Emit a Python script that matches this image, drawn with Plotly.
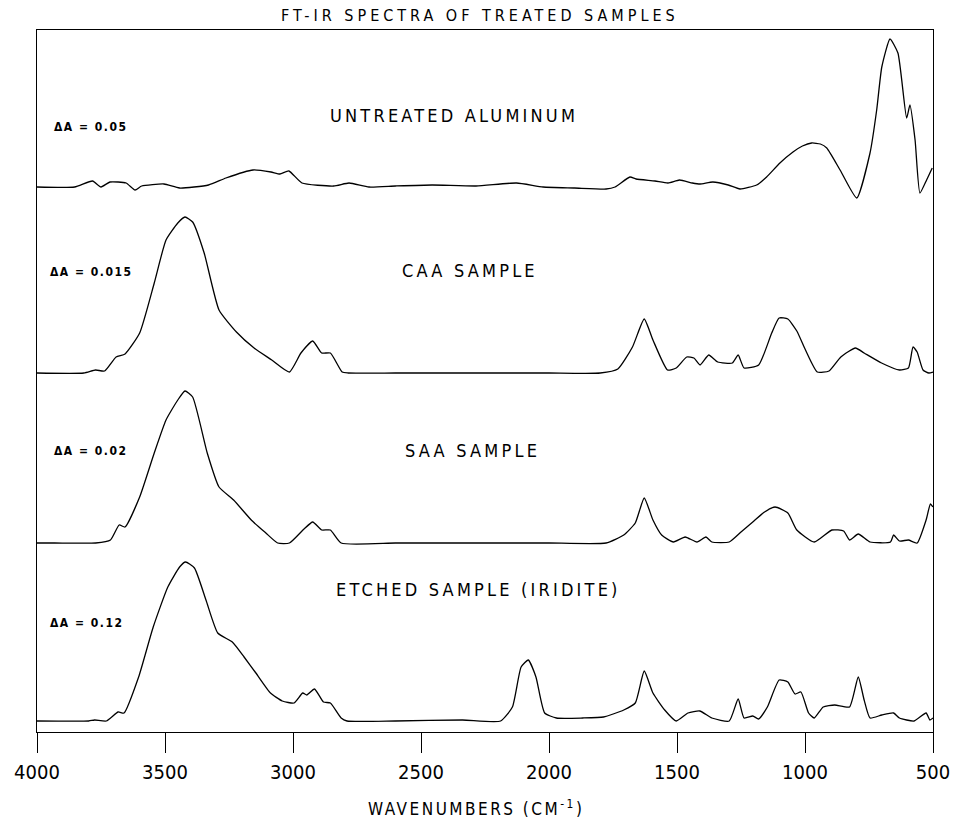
import plotly.graph_objects as go

# ---------------- data ----------------
# heights above each spectrum's own baseline (arbitrary absorbance units)
untreated_wn = [4000, 3853, 3783, 3750, 3715, 3652, 3617, 3591, 3504, 3443, 3330, 3262, 3156, 3086,
                3051, 3016, 2965, 2841, 2781, 2703, 2600, 2457, 2285, 2127, 2023, 1900, 1777, 1742, 1684, 1660,
                1586, 1535, 1490, 1440, 1410, 1360, 1300, 1254, 1189, 1150, 1098, 1047, 1010, 974, 940, 915,
                863, 798, 746, 720, 700, 668, 637, 603, 590, 570, 551, 525, 503]
untreated_h = [0, 0, 6, 0, 5, 4, -3, 1, 3, -1, 2, 9, 17, 15,
               13, 16, 4, 1, 4, 0, 1, 2, 1, 4, 0, -1, -2, 0, 10, 8,
               6, 4, 7, 4, 3, 5, 2, -2, 2, 10, 24, 35, 41, 44, 43, 39,
               17, -11, 34, 77, 120, 148, 134, 69, 82, 47, -6, 7, 19]

caa_wn = [4000, 3817, 3771, 3736, 3691, 3656, 3599, 3542, 3496, 3450, 3422, 3392, 3347, 3289,
          3221, 3152, 3083, 3014, 2969, 2923, 2888, 2854, 2808, 2785, 2600, 2400, 2189, 2000, 1800, 1731, 1674,
          1628, 1594, 1537, 1503, 1462, 1434, 1410, 1376, 1341, 1284, 1261, 1238, 1181, 1130,
          1101, 1067, 1032, 998, 952, 906, 860, 803, 769, 701, 631, 596, 578, 562, 539, 516, 500]
caa_h = [0, 0, 3, 2, 16, 19, 40, 90, 133, 150, 156, 151, 120, 63,
         41, 25, 13, 1, 20, 32, 20, 20, 1, 0, 0, 0, 0, 0, 0, 4, 26,
         54, 33, 3, 5, 16, 15, 8, 18, 11, 10, 18, 5, 8, 40,
         55, 54, 42, 23, 1, 2, 16, 25, 20, 10, 3, 5, 26, 21, 3, 0, 1]

saa_wn = [4000, 3931, 3771, 3713, 3679, 3656, 3599, 3542, 3496, 3450, 3422, 3392, 3335, 3289,
          3232, 3163, 3106, 3060, 3014, 2957, 2923, 2888, 2854, 2812, 2600, 2400, 2200, 2000, 1777, 1708, 1663, 1628,
          1594, 1560, 1514, 1468, 1422, 1387, 1364, 1296, 1250, 1204, 1158, 1117, 1067, 1032,
          964, 895, 849, 826, 792, 746, 666, 654, 631, 596, 562, 527, 510, 500]
saa_h = [0, 0, 0, 3, 18, 16, 46, 90, 123, 143, 152, 146, 90, 56,
         43, 23, 10, 0, 0, 14, 21, 13, 13, 0, 0, 0, 0, 0, 0, 8, 20, 45,
         23, 8, 1, 6, 1, 6, 1, 1, 11, 21, 31, 36, 30, 13,
         1, 13, 12, 3, 9, 1, 1, 8, 2, 3, 0, 23, 39, 36]

etched_wn = [4000, 3798, 3775, 3729, 3683, 3660, 3603, 3546, 3489, 3443, 3420, 3385, 3340, 3294,
             3237, 3191, 3145, 3088, 3042, 2996, 2962, 2946, 2916, 2881, 2854, 2812, 2789, 2600, 2338,
             2189, 2143, 2109, 2081, 2051, 2017, 1971, 1868, 1787, 1708, 1663, 1628, 1594, 1548,
             1503, 1457, 1411, 1364, 1296, 1261, 1238, 1204, 1181, 1147, 1101, 1067, 1039, 1016,
             986, 964, 929, 884, 826, 792, 769, 746, 700, 654, 631, 574, 527, 512, 500]
etched_h = [0, 0, 1, 0, 9, 8, 44, 94, 134, 154, 159, 153, 121, 88,
            79, 64, 48, 28, 20, 18, 28, 26, 32, 19, 18, 3, 0, 0, 1,
            0, 14, 54, 61, 44, 8, 3, 3, 4, 11, 18, 50, 28, 11,
            0, 8, 10, 3, 0, 22, 3, 5, 2, 14, 41, 39, 27, 29,
            8, 3, 14, 16, 14, 44, 21, 3, 6, 8, 3, 0, 8, 1, 3]

spectra_names = ["UNTREATED ALUMINUM", "CAA SAMPLE", "SAA SAMPLE", "ETCHED SAMPLE (IRIDITE)"]
delta_a_labels = ["\u0394A = 0.05", "\u0394A = 0.015", "\u0394A = 0.02", "\u0394A = 0.12"]
x_tick_vals = [4000, 3500, 3000, 2500, 2000, 1500, 1000, 500]
x_title = "WAVENUMBERS (CM<sup>-1</sup>)"
chart_title = "FT-IR SPECTRA OF TREATED SAMPLES"

# ---------------- layout helpers ----------------
offsets = [545, 359, 189, 11]   # vertical stacking offsets of the four traces
series = [(untreated_wn, untreated_h), (caa_wn, caa_h), (saa_wn, saa_h), (etched_wn, etched_h)]

FONT = "DejaVu Sans Condensed, DejaVu Sans, sans-serif"

fig = go.Figure()
for (wn, h), off in zip(series, offsets):
    fig.add_trace(go.Scatter(x=wn, y=[v + off for v in h], mode="lines",
                             line=dict(color="black", width=1.3, shape="spline", smoothing=0.5),
                             hoverinfo="skip", showlegend=False))

def spaced(t, ls):
    return '<span style="letter-spacing:%spx">%s</span>' % (ls, t)

ann = []
ann.append(dict(text=spaced(chart_title, 4), x=0.494, y=1.021,
                xref="paper", yref="paper", showarrow=False, xanchor="center", yanchor="middle",
                font=dict(family=FONT, size=16, color="black")))
ann.append(dict(text=spaced(x_title, 2.5), x=0.49, y=-0.108,
                xref="paper", yref="paper", showarrow=False, xanchor="center", yanchor="middle",
                font=dict(family=FONT, size=17, color="black")))
name_pos = [(0.4654, 0.8789), (0.4833, 0.6581), (0.4855, 0.4003), (0.4922, 0.2023)]
da_pos = [(0.0167, 0.8618), (0.0123, 0.6553), (0.0167, 0.4003), (0.0123, 0.1553)]
for name, (px, py) in zip(spectra_names, name_pos):
    ann.append(dict(text=spaced(name, 3.2), x=px, y=py, xref="paper", yref="paper", showarrow=False,
                    xanchor="center", yanchor="middle",
                    font=dict(family=FONT, size=18, color="black")))
for lab, (px, py) in zip(delta_a_labels, da_pos):
    ann.append(dict(text=spaced(lab, 1.5), x=px, y=py, xref="paper", yref="paper", showarrow=False,
                    xanchor="left", yanchor="middle",
                    font=dict(family=FONT, size=12, color="black", weight="bold")))

fig.update_layout(
    width=957, height=819,
    margin=dict(l=37, r=24, t=30, b=87, autoexpand=False),
    paper_bgcolor="white", plot_bgcolor="white",
    annotations=ann,
    xaxis=dict(range=[4000, 500], tickvals=x_tick_vals, ticktext=[str(v) for v in x_tick_vals],
               showgrid=False, zeroline=False, showline=True, linecolor="black", linewidth=1.3,
               mirror=True, ticks="outside", ticklen=20, tickwidth=1.3, tickcolor="black",
               automargin=False, ticklabelstandoff=2,
               tickfont=dict(family=FONT, size=20, color="black")),
    yaxis=dict(range=[0, 702], showgrid=False, zeroline=False, showline=True, linecolor="black",
               linewidth=1.3, mirror=True, showticklabels=False, ticks="", automargin=False),
)

fig.write_html("out.html")
